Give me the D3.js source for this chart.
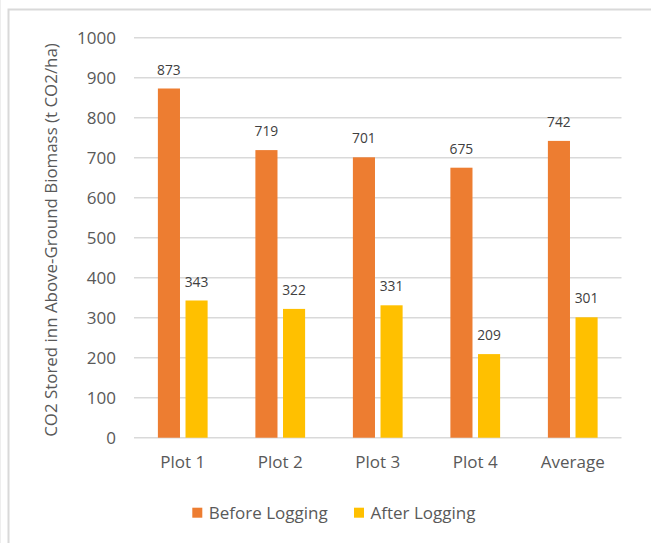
<!DOCTYPE html>
<html>
<head>
<meta charset="utf-8">
<script src="https://cdn.jsdelivr.net/npm/d3@7"></script>
<style>
  body { margin: 0; background: #fff; }
  text { font-family: "Open Sans", sans-serif; }
</style>
</head>
<body>
<script>
(function() {

	var width = 651,
		height = 543;

	// data
	var categories = ["Plot 1", "Plot 2", "Plot 3", "Plot 4", "Average"],
		seriesNames = ["Before Logging", "After Logging"],
		beforeLogging = [873, 719, 701, 675, 742],
		afterLogging = [343, 322, 331, 209, 301],
		yTicks = [0, 100, 200, 300, 400, 500, 600, 700, 800, 900, 1000];

	// color
	var beforeColor = "#ED7D31",
		afterColor = "#FFC000",
		gridColor = "#D9D9D9",
		axisText = "#595959",
		labelText = "#404040";

	var plotLeft = 134,
		plotRight = 621.5,
		plotTop = 37.7,
		plotBottom = 437.7;

	var svg = d3.select("body").append("svg")
		.attr("width", width)
		.attr("height", height);

	// chart frame
	svg.append("line")
		.attr("x1", 0.5).attr("x2", 0.5).attr("y1", 0).attr("y2", height)
		.attr("stroke", "#EEEEEE").attr("stroke-width", 1);
	svg.append("path")
		.attr("d", "M8.5," + height + "V9.5H" + width)
		.attr("fill", "none")
		.attr("stroke", gridColor)
		.attr("stroke-width", 2);

	var x0 = d3.scaleBand()
		.domain(categories)
		.range([plotLeft, plotRight])
		.paddingInner(0.49)
		.paddingOuter(0.245);

	var x1 = d3.scaleBand()
		.domain(seriesNames)
		.range([0, x0.bandwidth()])
		.paddingInner(0.2);

	var y = d3.scaleLinear()
		.domain([0, 1000])
		.range([plotBottom, plotTop]);

	// gridlines
	svg.append("g")
		.selectAll("line")
		.data(yTicks)
		.enter()
		.append("line")
		.attr("x1", plotLeft)
		.attr("x2", plotRight)
		.attr("y1", function(d) { return y(d); })
		.attr("y2", function(d) { return y(d); })
		.attr("stroke", gridColor)
		.attr("stroke-width", 1.6);

	// y axis labels
	var yAxis = d3.axisLeft(y).tickValues(yTicks).tickFormat(d3.format("d")).tickSize(0).tickPadding(0);
	var yg = svg.append("g")
		.attr("transform", "translate(116,0)")
		.call(yAxis);
	yg.select(".domain").remove();
	yg.selectAll("text")
		.attr("fill", axisText)
		.style("font-size", "17px")
		.style("font-family", "'Open Sans', sans-serif");

	// x axis labels
	var xAxis = d3.axisBottom(x0).tickSize(0).tickPadding(0);
	var xg = svg.append("g")
		.attr("transform", "translate(0,455)")
		.call(xAxis);
	xg.select(".domain").remove();
	xg.selectAll("text")
		.attr("fill", axisText)
		.attr("dy", "0.76em")
		.style("font-size", "17px")
		.style("font-family", "'Open Sans', sans-serif");

	// bars
	var series = [
		{ name: seriesNames[0], values: beforeLogging, color: beforeColor },
		{ name: seriesNames[1], values: afterLogging, color: afterColor }
	];

	series.forEach(function(s) {
		var g = svg.append("g");
		g.selectAll("rect")
			.data(s.values)
			.enter()
			.append("rect")
			.attr("x", function(d, i) { return x0(categories[i]) + x1(s.name); })
			.attr("y", function(d) { return y(d); })
			.attr("width", x1.bandwidth())
			.attr("height", function(d) { return y(0) - y(d); })
			.attr("fill", s.color);

		g.selectAll("text")
			.data(s.values)
			.enter()
			.append("text")
			.attr("x", function(d, i) { return x0(categories[i]) + x1(s.name) + x1.bandwidth() / 2; })
			.attr("y", function(d) { return y(d) - 14; })
			.attr("text-anchor", "middle")
			.attr("fill", labelText)
			.style("font-size", "13.8px")
			.text(function(d) { return d; });
	});

	// y axis title
	svg.append("text")
		.attr("transform", "translate(50,240) rotate(-90)")
		.attr("text-anchor", "middle")
		.attr("dominant-baseline", "central")
		.attr("fill", axisText)
		.style("font-size", "16.9px")
		.text("CO2 Stored inn Above-Ground Biomass (t CO2/ha)");

	// legend
	var legendX = [192.3, 354];
	var legend = svg.append("g")
		.selectAll("g")
		.data(series)
		.enter()
		.append("g")
		.attr("transform", function(d, i) { return "translate(" + legendX[i] + ",507.7)"; });
	legend.append("rect")
		.attr("width", 10)
		.attr("height", 10)
		.attr("fill", function(d) { return d.color; });
	legend.append("text")
		.attr("x", 16.5)
		.attr("y", 11.6)
		.attr("fill", axisText)
		.style("font-size", "17px")
		.text(function(d) { return d.name; });

})();
</script>
</body>
</html>
